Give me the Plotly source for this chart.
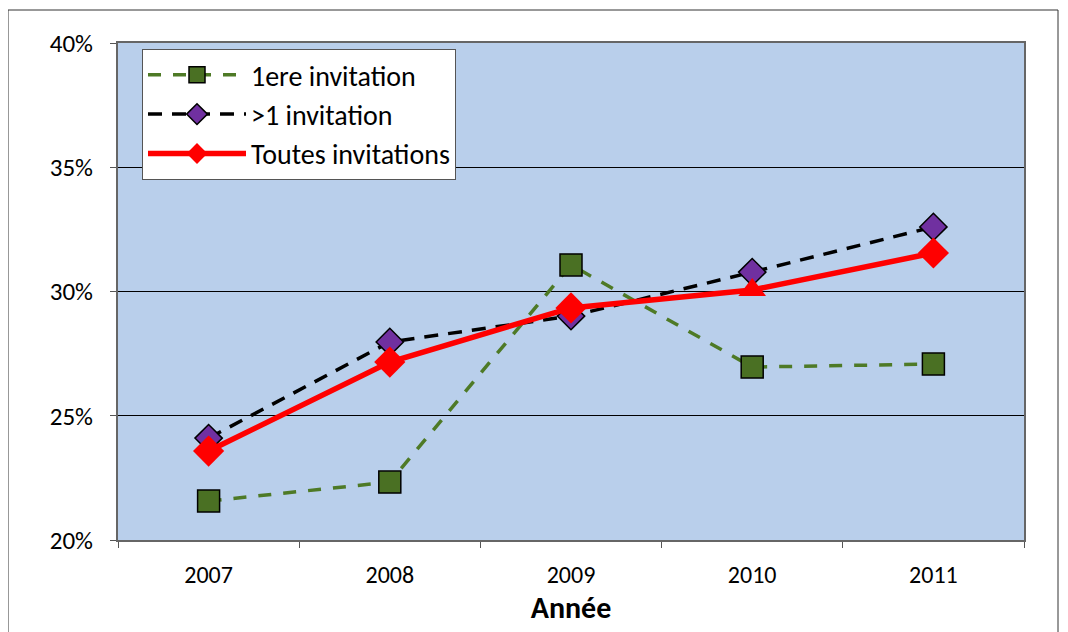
import plotly.graph_objects as go

years = ["2007", "2008", "2009", "2010", "2011"]
first_inv = [21.57, 22.33, 31.07, 26.96, 27.08]
more_inv = [24.10, 27.97, 29.01, 30.78, 32.60]
all_inv = [23.58, 27.16, 29.34, 30.06, 31.55]
all_symbols = ["diamond", "diamond", "diamond", "triangle-up", "diamond"]

font = "Carlito, Lato, Liberation Sans, Arial, sans-serif"

fig = go.Figure()
fig.add_trace(go.Scatter(
    x=years, y=first_inv, name="1ere invitation", mode="lines+markers",
    line=dict(color="#4E7A26", width=3.5, dash="13px,12px"),
    marker=dict(symbol="square", size=22, color="#4A7023",
                line=dict(color="black", width=1.5)),
))
fig.add_trace(go.Scatter(
    x=years, y=more_inv, name=">1 invitation", mode="lines+markers",
    line=dict(color="black", width=3.5, dash="14px,10px"),
    marker=dict(symbol="diamond", size=21, color="#7030A0",
                line=dict(color="black", width=1.5)),
))
fig.add_trace(go.Scatter(
    x=years, y=all_inv, name="Toutes invitations", mode="lines+markers",
    line=dict(color="#FF0000", width=5.5),
    marker=dict(symbol=all_symbols, size=24, color="#FF0000"),
))

W, H = 1060, 624
L, T = 110, 35
PW = 906
PH = 497

fig.update_layout(
    width=W, height=H,
    margin=dict(l=L, r=W - L - PW, t=T, b=H - T - PH),
    paper_bgcolor="white",
    plot_bgcolor="#B9CFEB",
    font=dict(family=font, size=25, color="black"),
    showlegend=True,
    legend=dict(
        x=(142 - 118) / PW, y=(540 - 49) / PH, xanchor="left", yanchor="top",
        bgcolor="white", bordercolor="#555555", borderwidth=1,
        font=dict(size=28), itemwidth=98, tracegroupgap=0,
    ),
    xaxis=dict(
        type="category", range=[-0.5, 4.5],
        showgrid=False, ticks="outside", tickson="boundaries",
        ticklen=6, tickcolor="#555555", ticklabelstandoff=12,
        showline=True, linecolor="#666666", linewidth=2, mirror=True,
        title=dict(text="<b>Année</b>", font=dict(size=30), standoff=6),
        tickfont=dict(size=24),
    ),
    yaxis=dict(
        range=[20, 40], dtick=5, ticksuffix="%",
        showgrid=True, gridcolor="black", gridwidth=1,
        ticks="outside", ticklen=6, tickcolor="#555555", ticklabelstandoff=12,
        showline=True, linecolor="#666666", linewidth=2, mirror=True,
        zeroline=False, tickfont=dict(size=25),
    ),
    shapes=[dict(
        type="rect", xref="paper", yref="paper",
        x0=(8 - 118) / PW, x1=(1058 - 118) / PW,
        y0=(540 - 650) / PH, y1=(540 - 10) / PH,
        line=dict(color="#333333", width=1), fillcolor="rgba(0,0,0,0)",
        layer="below",
    )],
)

fig.write_html("out.html")
